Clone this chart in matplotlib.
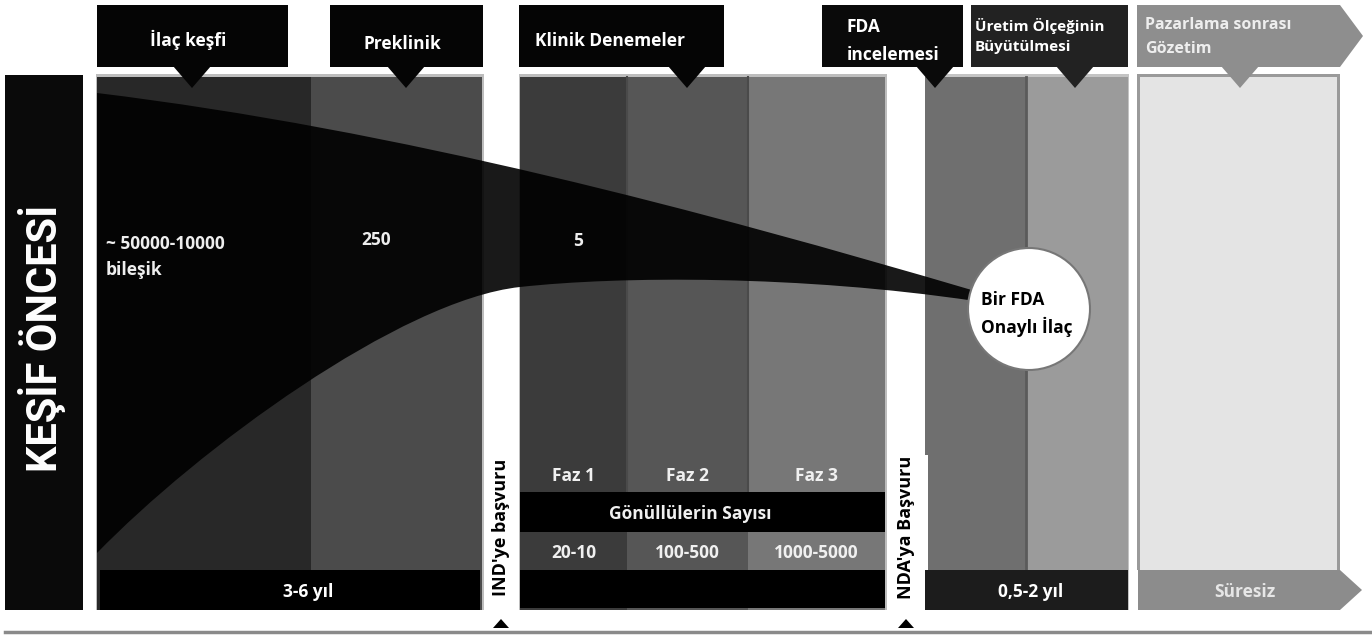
import matplotlib
matplotlib.use('Agg')
from matplotlib import pyplot as plt
from matplotlib.patches import Rectangle, Polygon, Circle, PathPatch
from matplotlib.path import Path

plt.rcParams['font.family'] = ['Open Sans', 'DejaVu Sans']

# metinler / veriler
left_title = 'KEŞİF ÖNCESİ'
stages = ['İlaç keşfi', 'Preklinik', 'Klinik Denemeler', 'FDA\nincelemesi',
          'Üretim Ölçeğinin\nBüyütülmesi', 'Pazarlama sonrası\nGözetim']
compounds = ['~ 50000-10000\nbileşik', '250', '5']
phases = ['Faz 1', 'Faz 2', 'Faz 3']
volunteer_title = 'Gönüllülerin Sayısı'
volunteers = ['20-10', '100-500', '1000-5000']
durations = ['3-6 yıl', '0,5-2 yıl', 'Süresiz']
submissions = ["IND'ye başvuru", "NDA'ya Başvuru"]
approved = 'Bir FDA\nOnaylı İlaç'

# yerleşim (piksel)
W, H = 1372, 636
col_edges = [97, 311, 482]              # keşif + preklinik
clin_edges = [520, 627, 748, 885]       # faz 1-3
fda_edges = [925, 1026, 1128]           # FDA + üretim
post_x = (1137, 1340)
col_colors = ['#282828', '#4b4b4b']
clin_colors = ['#3b3b3b', '#565656', '#777777']
fda_colors = ['#6f6f6f', '#9b9b9b']

fig = plt.figure(figsize=(13.72, 6.36), dpi=100)
ax = fig.add_axes([0, 0, 1, 1])
ax.set_xlim(0, W)
ax.set_ylim(H, 0)
ax.axis('off')


def box(x0, y0, x1, y1, color, z=1, ec='none', lw=0):
    ax.add_patch(Rectangle((x0, y0), x1 - x0, y1 - y0, facecolor=color,
                           edgecolor=ec, linewidth=lw, zorder=z))


def pointer(cx, color):
    ax.add_patch(Polygon([(cx - 19, 66), (cx + 19, 66), (cx, 88)],
                         closed=True, facecolor=color, edgecolor='none', zorder=6))


# sol başlık
box(5, 75, 83, 610, '#0a0a0a')
ax.text(42, 338, left_title, rotation=90, ha='center', va='center', color='white',
        fontsize=30, fontweight='bold', family=['Roboto', 'DejaVu Sans'])

# paneller
top, bot = 77, 610
box(col_edges[0] - 1, top - 3, col_edges[-1] + 2, bot, '#bdbdbd', z=0.5)
for i in range(2):
    box(col_edges[i], top, col_edges[i + 1], bot, col_colors[i])
box(clin_edges[0] - 1, top - 3, clin_edges[-1] + 2, bot, '#bdbdbd', z=0.5)
for i in range(3):
    box(clin_edges[i], top, clin_edges[i + 1], bot, clin_colors[i])
for x in clin_edges[1:-1]:
    ax.plot([x, x], [top, 570], color='#4a4a4a', lw=1.5, zorder=1.2)
box(fda_edges[0], top - 3, fda_edges[-1] + 1, bot, '#c4c4c4', z=0.5)
for i in range(2):
    box(fda_edges[i], top, fda_edges[i + 1], bot, fda_colors[i])
ax.plot([fda_edges[1], fda_edges[1]], [top, 570], color='#5a5a5a', lw=2, zorder=1.2)
box(post_x[0], top - 3, post_x[1], 570, '#9a9a9a', z=0.5)
box(post_x[0] + 3, top, post_x[1] - 3, 570, '#e4e4e4')

# huni
verts = [(97, 93), (400, 130), (700, 210), (975, 291),
         (975, 301),
         (800, 275), (620, 276), (520, 287),
         (400, 300), (197, 450), (97, 553),
         (97, 93)]
codes = [Path.MOVETO, Path.CURVE4, Path.CURVE4, Path.CURVE4,
         Path.LINETO,
         Path.CURVE4, Path.CURVE4, Path.CURVE4,
         Path.CURVE4, Path.CURVE4, Path.CURVE4,
         Path.CLOSEPOLY]
ax.add_patch(PathPatch(Path(verts, codes), facecolor='black', edgecolor='none',
                       alpha=0.9, zorder=2))

# başvuru etiketleri
box(887, 455, 928, 610, 'white', z=2.5)
for x, s in zip([501, 906], submissions):
    ax.text(x, 527, s, rotation=90, ha='center', va='center', color='black',
            fontsize=13, fontweight='bold', zorder=7)
    ax.add_patch(Polygon([(x - 8, 628), (x + 8, 628), (x, 619)], closed=True,
                         facecolor='black', edgecolor='none', zorder=7))
ax.plot([5, W], [632, 632], color='#8a8a8a', lw=2.5, zorder=6)

# faz satırları
fkw = dict(ha='center', va='center', color='#f0f0f0', fontsize=12.5,
           fontweight='bold', zorder=7)
for i in range(3):
    cx = (clin_edges[i] + clin_edges[i + 1]) / 2
    ax.text(cx, 476, phases[i], **fkw)
    box(clin_edges[i], 532, clin_edges[i + 1], 570, clin_colors[i], z=3)
    ax.text(cx, 553, volunteers[i], **fkw)
box(clin_edges[0], 492, clin_edges[-1], 532, 'black', z=3)
ax.text(690, 514, volunteer_title, **fkw)

# alt çubuklar
box(100, 570, 480, 610, 'black', z=3)
box(clin_edges[0], 570, clin_edges[-1], 608, 'black', z=3)
box(fda_edges[0], 570, fda_edges[-1], 610, '#1c1c1c', z=3)
ax.add_patch(Polygon([(1138, 570), (1340, 570), (1362, 590), (1340, 610), (1138, 610)],
                     closed=True, facecolor='#8c8c8c', edgecolor='none', zorder=3))
for (x, s, c) in zip([308, 1031, 1245], durations, ['white', 'white', '#e6e6e6']):
    fkw['color'] = c
    ax.text(x, 592, s, **fkw)

# başlık kutuları
hdr = [(97, 288, '#050505'), (330, 483, '#050505'), (519, 724, '#050505'),
       (822, 963, '#0a0a0a'), (971, 1128, '#222222')]
ptr_x = [192, 406, 687, 935, 1075, 1240]
for (x0, x1, c), px in zip(hdr, ptr_x):
    box(x0, 5, x1, 67, c, z=5)
    pointer(px, c)
ax.add_patch(Polygon([(1137, 5), (1340, 5), (1363, 36), (1340, 67), (1137, 67)],
                     closed=True, facecolor='#8e8e8e', edgecolor='none', zorder=5))
pointer(ptr_x[5], '#8e8e8e')

hkw = dict(color='white', fontsize=12.5, fontweight='bold', zorder=7, va='center')
ax.text(188, 40, stages[0], ha='center', **hkw)
ax.text(402, 44, stages[1], ha='center', **hkw)
ax.text(535, 41, stages[2], ha='left', **hkw)
ax.text(847, 41, stages[3], ha='left', linespacing=1.7, **hkw)
hkw['fontsize'] = 11
ax.text(975, 36, stages[4], ha='left', linespacing=1.6, **hkw)
hkw['color'] = '#eeeeee'
hkw['fontsize'] = 11.5
ax.text(1145, 37, stages[5], ha='left', linespacing=1.6, **hkw)

# bileşik sayıları
ckw = dict(color='#eeeeee', fontsize=12.5, fontweight='bold', zorder=7, va='center')
ax.text(106, 257, compounds[0], ha='left', linespacing=1.6, **ckw)
ax.text(376, 240, compounds[1], ha='center', **ckw)
ax.text(578, 241, compounds[2], ha='center', **ckw)

# onaylı ilaç
ax.add_patch(Circle((1029, 309), 61, facecolor='white', edgecolor='#777777',
                    lw=1.5, zorder=4))
ax.text(981, 314, approved, ha='left', va='center', color='black', fontsize=12.5,
        fontweight='bold', linespacing=1.5, zorder=7)

fig.savefig('out.png', dpi=100)
